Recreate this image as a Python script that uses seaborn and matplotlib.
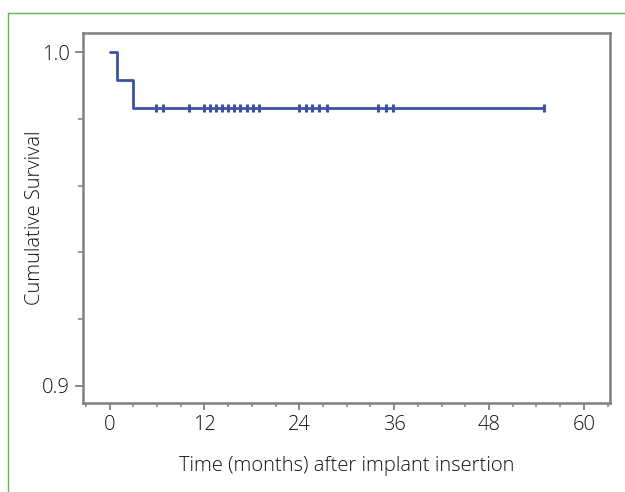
import matplotlib
matplotlib.use("Agg")
import matplotlib.pyplot as plt
from matplotlib.lines import Line2D
from matplotlib.ticker import MultipleLocator, FormatStrFormatter
import seaborn as sns
import pandas as pd

# Step curve (Kaplan-Meier)
step_months = [0, 1, 3, 55]
step_survival = [1.0, 0.9917, 0.9833, 0.9833]

# Censored observations (months)
censor_months = [5.9, 6.8, 10.0, 12.0, 12.7, 13.5, 14.2, 15.0, 15.7, 16.5, 17.4,
                 18.1, 18.9, 24.0, 24.8, 25.6, 26.5, 27.5, 34.0, 35.0, 35.9, 55.0]
censor_survival = [0.9833] * len(censor_months)

x_ticks = [0, 12, 24, 36, 48, 60]
y_ticks = [0.9, 1.0]

line_color = "#3d51a5"
spine_color = "#808080"
text_color = "#111111"

sns.set_theme(style="white")
plt.rcParams["font.family"] = ["Open Sans", "DejaVu Sans"]
plt.rcParams["font.weight"] = "light"
plt.rcParams["axes.labelweight"] = "light"

fig = plt.figure(figsize=(6.25, 4.92), dpi=100)
ax = fig.add_axes([0.1323, 0.1809, 0.8437, 0.752])

step_df = pd.DataFrame({"month": step_months, "survival": step_survival})
cens_df = pd.DataFrame({"month": censor_months, "survival": censor_survival})

sns.lineplot(data=step_df, x="month", y="survival", ax=ax, estimator=None,
             sort=False, drawstyle="steps-post", color=line_color, linewidth=2)
sns.scatterplot(data=cens_df, x="month", y="survival", ax=ax, marker="|",
                s=30, linewidth=2.2, color=line_color, zorder=3)

ax.set_xlim(-3.4, 63.3)
ax.set_ylim(0.8949, 1.0057)
ax.set_xticks(x_ticks)
ax.set_yticks(y_ticks)
ax.xaxis.set_minor_locator(MultipleLocator(3))
ax.yaxis.set_minor_locator(MultipleLocator(0.02))
ax.yaxis.set_major_formatter(FormatStrFormatter("%.1f"))

for s in ax.spines.values():
    s.set_color(spine_color)
    s.set_linewidth(1.8)

fs = 14.5
ax.tick_params(which="both", direction="out", color=spine_color,
               labelsize=fs, labelcolor=text_color)
ax.tick_params(axis="x", which="major", length=5, width=1.3, pad=4)
ax.tick_params(axis="x", which="minor", length=3, width=1.1)
ax.tick_params(axis="y", which="major", length=6, width=1.3, pad=3)
ax.tick_params(axis="y", which="minor", length=3.5, width=1.1)
ax.tick_params(axis="x", which="both", bottom=True)
ax.tick_params(axis="y", which="both", left=True)

ax.set_xlabel("Time (months) after implant insertion", fontsize=fs,
              color=text_color, va="center", fontweight="light")
ax.set_ylabel("Cumulative Survival", fontsize=fs, color=text_color,
              va="center", fontweight="light")
ax.xaxis.set_label_coords(0.5, (403 - 466) / 370)
ax.yaxis.set_label_coords((35 - 82.7) / 527.3, 0.5)

# green frame lines (top and left)
green = "#5cb84a"
fig.add_artist(Line2D([8 / 625, 1.0], [1 - 13 / 492, 1 - 13 / 492],
                      transform=fig.transFigure, color=green, linewidth=1.0))
fig.add_artist(Line2D([8 / 625, 8 / 625], [0.0, 1 - 13 / 492],
                      transform=fig.transFigure, color=green, linewidth=1.0))

fig.savefig("out.png", dpi=100)
